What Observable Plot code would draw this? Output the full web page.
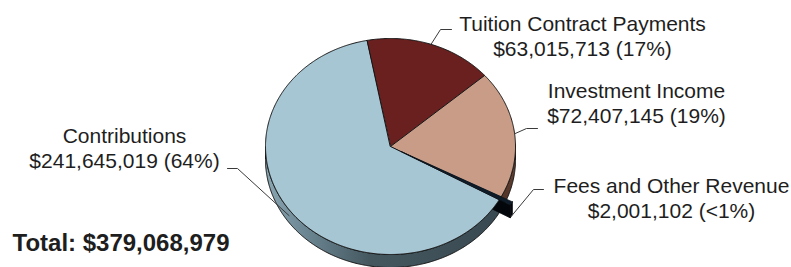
<!DOCTYPE html>
<html><head><meta charset="utf-8">
<script src="https://cdn.jsdelivr.net/npm/d3@7"></script>
<script src="https://cdn.jsdelivr.net/npm/@observablehq/plot@0.6"></script>
<style>html,body{margin:0;padding:0;background:#fff} #chart svg{display:block}</style>
</head><body><div id="chart"></div>
<script>
// ---- data ----
const categories = ["Tuition Contract Payments", "Investment Income", "Fees and Other Revenue", "Contributions"];
const values = [63015713, 72407145, 2001102, 241645019];
const percentLabels = ["17%", "19%", "<1%", "64%"];
const totalLabel = "Total: $379,068,979";

// ---- styles ----
const topColors  = ["#6b2020", "#c89c87", "#0e1c29", "#a7c6d3"];
const sideColors = ["#3f1010", "url(#sideInv)", "#03070b", "url(#sideContrib)"];
const explode    = [0, 0, 0.1, 0];

// ---- layout ----
const W = 791, H = 267;
const cx = 390, cy = 146, rx = 125, ry = 108, depth = 13;
const startDeg = -11;
const labelLayout = [
  {tx: 582, ty: 55,  elbow: [440, 29],  end: [451, 29],  dz: 0},
  {tx: 636, ty: 122, elbow: [526, 128], end: [537, 128], dz: 0},
  {tx: 671, ty: 217, elbow: [533, 189], end: [543, 189], dz: 13},
  {tx: 124, ty: 167, elbow: [237, 168], end: [227, 168], dz: 6}
];
const totalPos = {x: 12, y: 250};

// ---- geometry from data ----
const rad = Math.PI / 180;
const arcs = d3.pie().sort(null)
  .startAngle(startDeg * rad).endAngle((startDeg + 360) * rad)(values);

function offsetOf(i) {
  const a = arcs[i], m = (a.startAngle + a.endAngle) / 2, k = explode[i];
  return [rx * k * Math.sin(m), -ry * k * Math.cos(m)];
}
function P(t, off, dz) {
  return [cx + off[0] + rx * Math.sin(t), cy + off[1] - ry * Math.cos(t) + dz];
}
function arcPts(t0, t1, off, dz) {
  const n = Math.max(2, Math.ceil((t1 - t0) / (0.5 * rad)) + 1);
  const pts = [];
  for (let j = 0; j < n; j++) pts.push(P(t0 + (t1 - t0) * j / (n - 1), off, dz));
  return pts;
}

let pid = 0;
function addPoly(list, pts, fill) {
  const id = pid++;
  for (const [x, y] of pts) list.push({id, x, y, fill});
}

const sideRows = [], feesSideRows = [], topRows = [], feesTopRows = [];
const lo = 90 * rad, hi = 270 * rad;

arcs.forEach((a, i) => {
  const off = offsetOf(i);
  const isEx = explode[i] > 0;
  const t0 = Math.max(a.startAngle, lo), t1 = Math.min(a.endAngle, hi);
  if (t0 < t1) {
    const pts = [...arcPts(t0, t1, off, 0), ...arcPts(t0, t1, off, depth).reverse()];
    addPoly(isEx ? feesSideRows : sideRows, pts, sideColors[i]);
  }
  if (isEx) {
    const c0 = [cx + off[0], cy + off[1]];
    const e = P(a.endAngle, off, 0);
    addPoly(feesSideRows, [c0, e, [e[0], e[1] + depth], [c0[0], c0[1] + depth]], sideColors[i]);
  }
  const top = [[cx + off[0], cy + off[1]], ...arcPts(a.startAngle, a.endAngle, off, 0)];
  addPoly(isEx ? feesTopRows : topRows, top, topColors[i]);
});

// leader lines
const leaderRows = [];
arcs.forEach((a, i) => {
  const m = (a.startAngle + a.endAngle) / 2;
  const s = P(m, offsetOf(i), labelLayout[i].dz);
  const L = labelLayout[i];
  for (const [x, y] of [s, L.elbow, L.end]) leaderRows.push({id: i, x, y});
});

const fmt = d3.format(",");
const labels = categories.map((c, i) => ({
  text: `${c}\n$${fmt(values[i])} (${percentLabels[i]})`,
  x: labelLayout[i].tx, y: labelLayout[i].ty
}));

const font = "'Liberation Sans', Arial, Helvetica, sans-serif";
const polyMark = (rows, opts) => Plot.line(rows, {x: "x", y: "y", z: "id", fill: "fill", curve: "linear-closed", ...opts});

const chart = Plot.plot({
  width: W, height: H, margin: 0,
  x: {domain: [0, W], range: [0, W], axis: null},
  y: {domain: [0, H], range: [0, H], axis: null},
  color: {type: "identity"},
  style: {background: "#fff", fontFamily: font},
  marks: [
    polyMark(sideRows, {stroke: "#141414", strokeWidth: 1, strokeLinejoin: "round"}),
    polyMark(feesSideRows, {stroke: "#05080b", strokeWidth: 0.8}),
    polyMark(topRows, {stroke: "#161616", strokeWidth: 1, strokeLinejoin: "round"}),
    polyMark(feesTopRows, {stroke: "#0a1118", strokeWidth: 0.6}),
    Plot.line(leaderRows, {x: "x", y: "y", z: "id", stroke: "#3a3a3a", strokeWidth: 1}),
    Plot.text(labels, {x: "x", y: "y", text: "text", fontSize: 21, fill: "#1e1e1e",
      textAnchor: "middle", lineAnchor: "bottom", lineHeight: 1.19, fontFamily: font}),
    Plot.text([totalLabel], {x: totalPos.x, y: totalPos.y, text: d => d, fontSize: 24, fontWeight: "bold",
      fill: "#1e1e1e", textAnchor: "start", lineAnchor: "bottom", fontFamily: font})
  ]
});

// gradients for the shaded pie walls
const svgNS = "http://www.w3.org/2000/svg";
const defs = document.createElementNS(svgNS, "defs");
defs.innerHTML = `
  <linearGradient id="sideContrib" x1="0" y1="0" x2="1" y2="0">
    <stop offset="0" stop-color="#8aa6b2"/>
    <stop offset="0.18" stop-color="#6a8591"/>
    <stop offset="0.45" stop-color="#44575f"/>
    <stop offset="1" stop-color="#394951"/>
  </linearGradient>
  <linearGradient id="sideInv" x1="0" y1="0" x2="0" y2="1">
    <stop offset="0" stop-color="#6b4737"/>
    <stop offset="1" stop-color="#4e3125"/>
  </linearGradient>`;
chart.insertBefore(defs, chart.firstChild);
document.getElementById("chart").append(chart);
</script>
</body></html>
